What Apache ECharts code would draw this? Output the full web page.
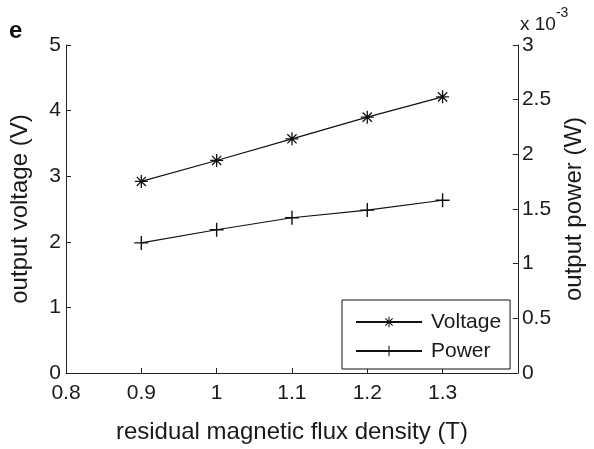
<!DOCTYPE html>
<html>
<head>
<meta charset="utf-8">
<script src="https://cdn.jsdelivr.net/npm/echarts@6/dist/echarts.min.js"></script>
<style>html,body{margin:0;padding:0;background:#fff;}#c{width:594px;height:449px;}</style>
</head>
<body>
<div id="c"></div>
<script>
const flux = [0.9, 1.0, 1.1, 1.2, 1.3];
const voltage = [2.92, 3.24, 3.57, 3.90, 4.21];
const power = [0.00119, 0.00131, 0.00142, 0.00149, 0.00158];
const seriesNames = ['Voltage', 'Power'];

function bar(cx, cy, L, w, th) {
  const dx = Math.cos(th), dy = Math.sin(th), nx = -dy, ny = dx;
  const p = [[cx+L*dx+w*nx, cy+L*dy+w*ny],[cx-L*dx+w*nx, cy-L*dy+w*ny],[cx-L*dx-w*nx, cy-L*dy-w*ny],[cx+L*dx-w*nx, cy+L*dy-w*ny]];
  return 'M' + p.map(q => q[0].toFixed(3)+' '+q[1].toFixed(3)).join('L') + 'Z';
}
const starPath = 'path://' + [0, Math.PI/4, Math.PI/2, 3*Math.PI/4].map(a => bar(5,5,5,0.5,a)).join(' ');
const plusPath = 'path://' + [0, Math.PI/2].map(a => bar(5,5,5,0.5,a)).join(' ');

const FONT = 'Liberation Sans';
const TXT = '#1a1a1a';
const axisLine = {show:true, lineStyle:{color:'#222', width:1}};

const chart = echarts.init(document.getElementById('c'), null, {renderer:'canvas'});
chart.setOption({
  animation: false,
  backgroundColor: '#fff',
  textStyle: {fontFamily: FONT},
  grid: {left: 65, right: 75, top: 45, bottom: 72, containLabel: false},
  xAxis: {
    type: 'value', min: 0.8, max: 1.4, interval: 0.1,
    name: 'residual magnetic flux density (T)', nameLocation: 'middle', nameGap: 47,
    nameTextStyle: {fontSize: 24, color: TXT, fontFamily: FONT},
    axisLine: axisLine,
    axisTick: {show: true, inside: true, length: 5, lineStyle:{color:'#222'}},
    axisLabel: {fontSize: 21, color: TXT, margin: 10, fontFamily: FONT, showMaxLabel: false,
      formatter: v => (Math.round(v*10)/10).toString()},
    splitLine: {show: false}
  },
  yAxis: [
    {
      type: 'value', min: 0, max: 5, interval: 1, position: 'left',
      name: 'output voltage (V)', nameLocation: 'middle', nameGap: 34,
      nameTextStyle: {fontSize: 24, color: TXT, fontFamily: FONT},
      axisLine: axisLine,
      axisTick: {show: true, inside: true, length: 5, lineStyle:{color:'#222'}},
      axisLabel: {fontSize: 21, color: TXT, margin: 5, fontFamily: FONT, padding: [4,0,0,0]},
      splitLine: {show: false}
    },
    {
      type: 'value', min: 0, max: 0.003, interval: 0.0005, position: 'right',
      name: 'output power (W)', nameLocation: 'middle', nameGap: 43,
      nameTextStyle: {fontSize: 24, color: TXT, fontFamily: FONT},
      axisLine: axisLine,
      axisTick: {show: true, inside: true, length: 5, lineStyle:{color:'#222'}},
      axisLabel: {fontSize: 21, color: TXT, margin: 4, fontFamily: FONT, padding: [4,0,0,0],
        formatter: v => (Math.round(v*10000)/10).toString()},
      splitLine: {show: false}
    }
  ],
  legend: {
    data: seriesNames,
    orient: 'vertical', left: 342, top: 300,
    backgroundColor: '#fff', borderColor: '#111', borderWidth: 1,
    padding: [11, 9, 7, 13], itemGap: 7, itemWidth: 66, itemHeight: 13,
    textStyle: {fontSize: 21, color: TXT, fontFamily: FONT, lineHeight: 22, padding: [0,0,0,4]}
  },
  graphic: [
    {type: 'text', left: 9, top: 19, style: {text: 'e', fontSize: 24, fontWeight: 'bold', fill: '#111', fontFamily: FONT}},
    {type: 'text', left: 520, top: 6, style: {
      text: '{a|x 10}{b|-3}', fill: TXT, fontFamily: FONT,
      rich: {a: {fontSize: 19, fontFamily: FONT, fill: TXT, padding:[9,0,0,0]}, b: {fontSize: 14, fontFamily: FONT, fill: TXT, verticalAlign: 'top'}}
    }}
  ],
  series: [
    {
      name: seriesNames[0], type: 'line', yAxisIndex: 0,
      data: flux.map((x, i) => [x, voltage[i]]),
      symbol: starPath, symbolSize: 13, symbolKeepAspect: true,
      lineStyle: {color: '#111', width: 1.2},
      itemStyle: {color: '#111', borderWidth: 0},
      emphasis: {disabled: true}
    },
    {
      name: seriesNames[1], type: 'line', yAxisIndex: 1,
      data: flux.map((x, i) => [x, power[i]]),
      symbol: plusPath, symbolSize: 14, symbolKeepAspect: true,
      lineStyle: {color: '#111', width: 1.2},
      itemStyle: {color: '#111', borderWidth: 0},
      emphasis: {disabled: true}
    }
  ]
});
</script>
</body>
</html>
